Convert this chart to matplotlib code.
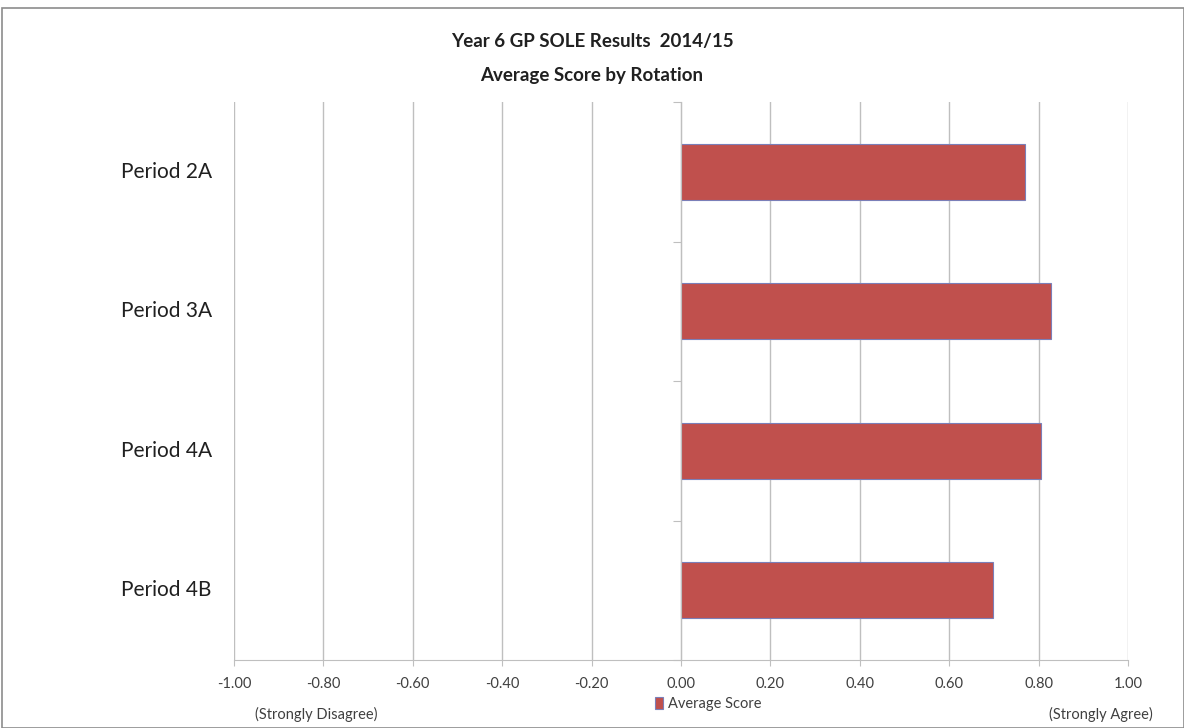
import matplotlib.pyplot as plt
import matplotlib.patches as patches

periods = ['Period 2A', 'Period 3A', 'Period 4A', 'Period 4B']
scores = [0.77, 0.828, 0.805, 0.698]
xticks = [-1.0, -0.8, -0.6, -0.4, -0.2, 0.0, 0.2, 0.4, 0.6, 0.8, 1.0]

plt.rcParams['font.family'] = ['Lato', 'DejaVu Sans']

fig = plt.figure(figsize=(11.84, 7.28), dpi=100)
ax = fig.add_axes([234 / 1184, 1 - 660 / 728, (1128 - 234) / 1184, (660 - 102) / 728])

# chart frame
fig.patches.append(patches.Rectangle((2 / 1184, 0.0), 1 - 2 / 1184, 1 - 8 / 728,
                                     transform=fig.transFigure, fill=False,
                                     edgecolor='#8c8c8c', lw=1.2))

ypos = list(range(len(periods)))
ax.barh(ypos, scores, height=0.4, color='#C0504D', edgecolor='#7b7fb8',
        linewidth=0.8, label='Average Score', zorder=3)

ax.set_xlim(-1, 1)
ax.set_ylim(len(periods) - 0.5, -0.5)
ax.set_xticks(xticks)
ax.set_xticklabels(['%.2f' % v for v in xticks], fontsize=10.5, color='#404040')
ax.tick_params(axis='x', length=4, width=0.8, color='#bfbfbf', pad=8)
ax.grid(axis='x', color='#bfbfbf', lw=1.0, zorder=0)

# vertical axis at zero with ticks at the category boundaries
ax.spines['left'].set_position(('data', 0))
ax.spines['left'].set_color('#bfbfbf')
ax.spines['left'].set_zorder(4)
ax.set_yticks([i - 0.5 for i in range(len(periods) + 1)])
ax.set_yticklabels([])
ax.tick_params(axis='y', length=6, width=0.8, color='#bfbfbf')
for s in ['top', 'right']:
    ax.spines[s].set_visible(False)
ax.spines['bottom'].set_color('#bfbfbf')

for y, name in zip(ypos, periods):
    ax.text(-0.025, y, name, transform=ax.get_yaxis_transform(), ha='right',
            va='center', fontsize=15, color='#202020')

ax.text(-0.815, -0.097, '(Strongly Disagree)', transform=ax.get_xaxis_transform(),
        ha='center', va='center', fontsize=10.5, color='#404040')
ax.text(0.94, -0.097, '(Strongly Agree)', transform=ax.get_xaxis_transform(),
        ha='center', va='center', fontsize=10.5, color='#404040')

fig.legend(loc='center', bbox_to_anchor=(708 / 1184, 1 - 704 / 728), frameon=False,
           fontsize=10.5, handlelength=0.6, handleheight=0.8, handletextpad=0.3,
           labelcolor='#404040')

fig.text(0.5, 1 - 42 / 728, 'Year 6 GP SOLE Results  2014/15', ha='center', va='center',
         fontsize=13.5, fontweight='bold', color='#202020')
fig.text(0.5, 1 - 76 / 728, 'Average Score by Rotation', ha='center', va='center',
         fontsize=13.5, fontweight='bold', color='#202020')

plt.savefig('out.png')
